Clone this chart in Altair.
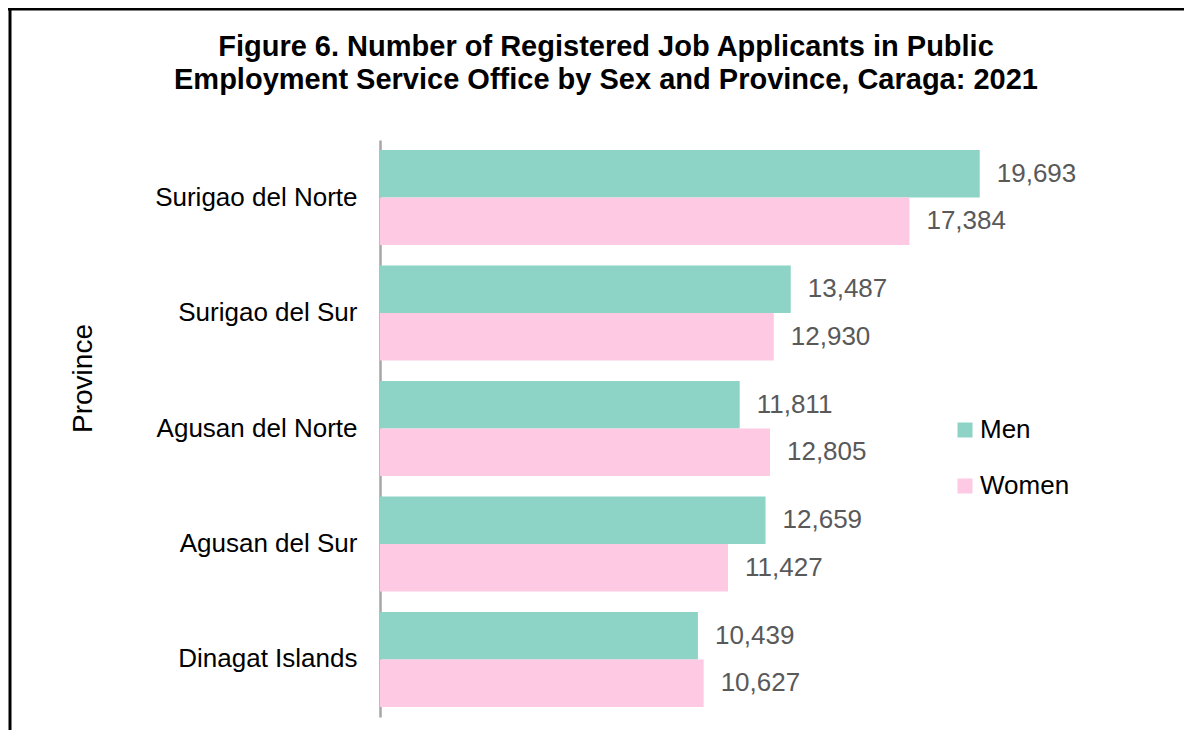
import altair as alt
import pandas as pd

provinces = ["Surigao del Norte", "Surigao del Sur", "Agusan del Norte", "Agusan del Sur", "Dinagat Islands"]
men = [19693, 13487, 11811, 12659, 10439]
women = [17384, 12930, 12805, 11427, 10627]
sexes = ["Men", "Women"]
colors = ["#8DD4C7", "#FDC9E3"]
title_lines = ["Figure 6. Number of Registered Job Applicants in Public",
               "Employment Service Office by Sex and Province, Caraga: 2021"]

rows = []
for p, m, w in zip(provinces, men, women):
    rows.append({"Province": p, "Sex": "Men", "Value": m})
    rows.append({"Province": p, "Sex": "Women", "Value": w})
df = pd.DataFrame(rows)

FONT = "Liberation Sans"

y_enc = alt.Y("Province:N", sort=provinces,
              scale=alt.Scale(paddingInner=0.177, paddingOuter=0.087),
              axis=alt.Axis(title="Province", titleFont=FONT, titleFontSize=28,
                            titleFontWeight="normal", titleColor="#000000",
                            titleAngle=-90, titleX=-297, titleY=238,
                            titleAlign="center", titleBaseline="middle",
                            labelFont=FONT, labelFontSize=26, labelColor="#000000",
                            labelLimit=400,
                            labelPadding=23, ticks=False, domainColor="#A6A6A6",
                            domainWidth=2.5, grid=False))
x_enc = alt.X("Value:Q", scale=alt.Scale(domain=[0, 22000]), axis=None)
yoff = alt.YOffset("Sex:N", sort=sexes)

base = alt.Chart(df)

bars = base.mark_bar().encode(
    y=y_enc, x=x_enc, yOffset=yoff,
    color=alt.Color("Sex:N", sort=sexes,
                    scale=alt.Scale(domain=sexes, range=colors),
                    legend=alt.Legend(title=None, orient="none", legendX=572, legendY=277,
                                      symbolType="square", symbolSize=225,
                                      symbolStrokeWidth=0, labelFont=FONT,
                                      labelFontSize=26, labelColor="#000000",
                                      rowPadding=30, labelOffset=2)),
)

labels = base.mark_text(align="left", baseline="middle", dx=17, font=FONT,
                        fontSize=26, color="#595959").encode(
    y=alt.Y("Province:N", sort=provinces), x="Value:Q", yOffset=yoff,
    text=alt.Text("Value:Q", format=",")
)

one = pd.DataFrame({"a": [0]})
border_top = alt.Chart(one).mark_rule(color="#000000", strokeWidth=3).encode(
    x=alt.value(-372), x2=alt.value(820), y=alt.value(-131)
)
border_left = alt.Chart(one).mark_rule(color="#000000", strokeWidth=3).encode(
    x=alt.value(-370), y=alt.value(-132), y2=alt.value(600)
)
title1 = alt.Chart(one).mark_text(font=FONT, fontSize=29, fontWeight="bold", color="#000000",
                                  align="center", baseline="alphabetic").encode(
    x=alt.value(226), y=alt.value(-84), text=alt.value(title_lines[0])
)
title2 = alt.Chart(one).mark_text(font=FONT, fontSize=29, fontWeight="bold", color="#000000",
                                  align="center", baseline="alphabetic").encode(
    x=alt.value(226), y=alt.value(-51), text=alt.value(title_lines[1])
)

chart = alt.layer(bars, labels, border_top, border_left, title1, title2).properties(
    width=670, height=577,
    autosize=alt.AutoSizeParams(type="none"),
    padding={"left": 372, "top": 132, "right": 134, "bottom": 13},
).configure(background="#FFFFFF").configure_view(stroke=None)

chart.save("out.html", embed_options={"renderer": "svg", "actions": False})
